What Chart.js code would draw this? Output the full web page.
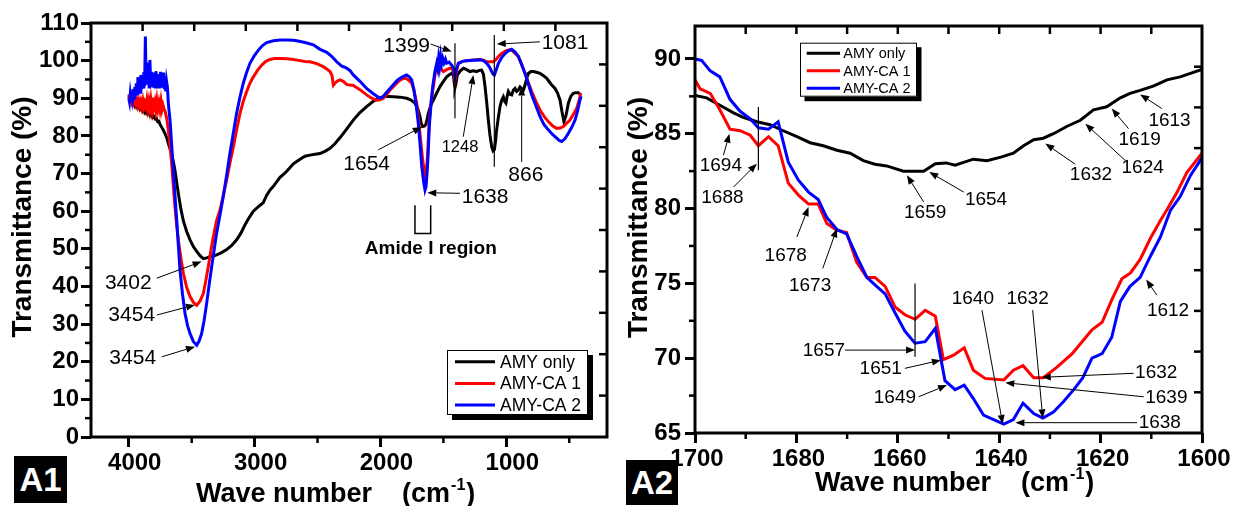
<!DOCTYPE html>
<html>
<head>
<meta charset="utf-8">
<script src="https://cdn.jsdelivr.net/npm/chart.js@4.4.1/dist/chart.umd.min.js"></script>
<style>
  html, body { margin: 0; padding: 0; background: #fff; }
  #wrap { position: relative; width: 1237px; height: 506px; overflow: hidden; }
  canvas { position: absolute; top: 0; }
  #c1 { left: 0; }
  #c2 { left: 617px; }
  .tag { position: absolute; background: #000; color: #fff; font: bold 33px "Liberation Sans", Arial, sans-serif;
         display: flex; align-items: center; justify-content: center; }
</style>
</head>
<body>
<div id="wrap">
  <canvas id="c1" width="617" height="506"></canvas>
  <canvas id="c2" width="620" height="506"></canvas>
  <div class="tag" style="left:14px;top:456px;width:53px;height:47px">A1</div>
  <div class="tag" style="left:626px;top:460px;width:52px;height:45px">A2</div>
</div>
<script>
const FONT = '"Liberation Sans", Arial, Helvetica, sans-serif';

// === SERIES ===
const seriesNames = ['AMY only', 'AMY-CA 1', 'AMY-CA 2'];
const seriesColors = ['#000000', '#ff0000', '#0000ff'];
const yTitle = 'Transmittance (%)';
const xTitle = 'Wave number    (cm';
const xTitleSup = '-1';

// === PANEL A1 : full spectrum ===
const a1XRange = [200, 4300];
const a1YRange = [0, 110];
const a1XTicks = [4000, 3000, 2000, 1000];
const a1XMinor = [3500, 2500, 1500, 500];
const a1YTicks = [0, 10, 20, 30, 40, 50, 60, 70, 80, 90, 100, 110];
const a1YMinor = [5, 15, 25, 35, 45, 55, 65, 75, 85, 95, 105];

const a1WaveAmy = [
  4000,3990,3980,3970,3960,3950,3940,3930,3920,3910,
  3900,3890,3880,3870,3860,3850,3840,3830,3820,3810,
  3800,3790,3780,3770,3760,3752,3740,3725,3712,3699,
  3686,3672,3659,3646,3633,3620,3606,3586,3566,3540,
  3513,3487,3460,3434,3407,3381,3354,3328,3302,3262,
  3222,3182,3143,3110,3076,3043,3010,2970,2944,2931,
  2905,2878,2851,2825,2798,2771,2745,2718,2692,2666,
  2639,2600,2560,2520,2481,2441,2401,2362,2322,2269,
  2216,2163,2110,2057,2004,1951,1898,1845,1792,1760,
  1726,1705,1686,1675,1665,1652,1640,1628,1620,1600,
  1580,1553,1527,1500,1474,1450,1434,1420,1412,1408,
  1402,1389,1365,1341,1315,1289,1262,1236,1216,1196,
  1182,1169,1156,1143,1130,1116,1105,1095,1086,1077,
  1063,1050,1037,1024,1013,1003,993,984,970,957,
  944,931,918,904,891,878,864,851,838,825,
  805,785,760,732,705,679,646,613,593,573,
  558,542,525,507,488,468,448,428,405];
const a1TransAmy = [
  90.5,89.5,89.8,88.6,89.2,88.0,88.6,87.5,88.0,87.0,
  87.4,86.6,87.0,86.2,86.8,85.8,86.2,85.4,85.8,84.9,
  85.2,84.5,84.6,83.8,83.9,83.1,82.4,81.5,80.6,79.6,
  78.0,76.6,75.2,73.2,70.9,67.8,64.7,60.6,57.4,54.6,
  52.4,50.6,49.3,48.2,47.4,47.6,47.9,48.1,48.4,49.0,
  49.8,50.9,52.4,54.1,56.4,58.3,60.0,61.2,61.9,62.3,
  64.2,65.6,66.6,67.8,69.0,69.8,70.6,71.6,72.6,73.2,
  73.8,74.6,74.9,75.1,75.3,75.9,76.7,77.9,79.5,81.8,
  84.2,86.2,87.8,89.2,90.2,90.5,90.4,90.3,90.0,89.6,
  88.7,87.4,85.1,83.2,82.5,82.6,83.0,84.6,86.0,88.1,
  89.5,91.4,93.1,94.5,95.7,96.3,96.6,96.0,93.5,92.8,
  93.6,96.2,97.3,98.0,97.6,97.1,97.3,97.1,97.4,97.5,
  96.4,93.1,89.0,84.2,80.2,77.1,76.0,76.3,78.5,81.6,
  85.0,87.8,89.5,90.4,89.2,88.7,90.6,91.8,91.0,90.9,
  92.2,92.6,91.8,92.2,93.0,92.6,92.2,93.5,95.3,96.6,
  97.1,97.1,96.9,96.6,96.0,95.3,93.8,92.6,91.4,89.5,
  86.5,83.8,85.5,88.7,90.5,91.3,91.5,91.5,90.8];

const a1WaveCa1 = [
  4000,3992,3984,3976,3968,3960,3952,3944,3936,3928,
  3920,3912,3904,3896,3888,3880,3872,3864,3856,3848,
  3840,3832,3824,3816,3808,3800,3792,3784,3776,3768,
  3760,3752,3744,3736,3728,3720,3712,3699,3686,3672,
  3659,3646,3633,3620,3606,3586,3566,3540,3513,3487,
  3460,3434,3407,3388,3368,3348,3328,3302,3275,3249,
  3222,3196,3169,3143,3116,3090,3063,3037,3010,2977,
  2944,2911,2878,2838,2798,2745,2692,2639,2600,2560,
  2507,2454,2428,2401,2385,2374,2362,2348,2335,2322,
  2295,2269,2243,2216,2163,2110,2070,2030,2004,1977,
  1951,1924,1898,1871,1845,1818,1792,1770,1752,1735,
  1712,1696,1681,1664,1652,1646,1638,1628,1620,1612,
  1596,1580,1566,1553,1540,1527,1514,1500,1474,1447,
  1430,1418,1408,1398,1381,1348,1315,1262,1209,1182,
  1156,1130,1103,1085,1063,1037,1010,997,970,957,
  944,930,917,904,878,851,825,798,765,732,
  700,666,633,600,573,547,520,494,468,441,
  425,409];
const a1TransCa1 = [
  91.0,89.8,90.6,89.2,90.2,89.0,90.0,88.6,89.6,88.2,
  89.4,88.0,89.2,87.8,89.4,87.6,88.8,87.8,89.6,87.4,
  89.2,87.2,89.6,87.4,90.2,87.6,89.0,87.0,89.4,87.2,
  88.8,87.0,89.2,87.0,88.2,87.2,86.6,84.8,81.6,77.4,
  72.7,66.8,61.2,56.5,52.3,47.6,43.5,39.8,37.3,35.8,
  35.0,36.1,38.2,41.5,45.3,49.4,53.2,57.5,60.3,64.2,
  68.3,72.8,77.1,81.6,86.0,89.2,91.8,94.0,95.7,97.4,
  98.8,99.8,100.3,100.6,100.6,100.5,100.3,100.0,99.8,99.7,
  99.2,98.4,97.8,97.1,96.0,93.5,94.0,94.4,94.7,94.9,
  94.5,93.7,93.5,93.4,92.3,90.9,90.0,89.5,89.6,90.0,
  91.0,92.2,93.1,94.0,94.8,95.3,95.2,94.6,94.0,92.3,
  88.7,84.0,78.9,73.5,70.5,69.2,70.2,73.6,79.0,84.2,
  89.6,93.1,96.4,98.4,97.2,98.6,97.6,97.1,97.6,98.0,
  97.8,96.8,94.9,96.8,99.3,99.8,100.0,100.2,100.3,100.1,
  99.7,99.7,99.7,100.2,101.1,101.9,102.5,102.7,102.9,102.8,
  102.4,101.9,101.5,101.1,99.0,96.6,94.2,91.8,89.2,86.9,
  85.2,83.8,82.7,82.0,82.1,82.5,83.4,84.2,85.7,87.3,
  89.0,91.3];

const a1WaveCa2 = [
  4000,3994,3988,3982,3976,3970,3964,3958,3952,3946,
  3940,3934,3928,3922,3916,3910,3904,3898,3892,3886,
  3880,3874,3868,3862,3856,3850,3844,3838,3832,3826,
  3820,3814,3808,3802,3796,3790,3784,3778,3772,3766,
  3760,3754,3748,3742,3736,3730,3724,3718,3712,3706,
  3700,3693,3686,3679,3672,3659,3646,3633,3619,3606,
  3593,3573,3553,3533,3513,3487,3460,3441,3421,3401,
  3381,3361,3341,3322,3302,3275,3249,3222,3196,3169,
  3143,3116,3090,3063,3037,3003,2970,2937,2904,2851,
  2798,2745,2692,2666,2600,2533,2480,2427,2401,2375,
  2348,2310,2269,2243,2216,2163,2110,2057,2004,1980,
  1951,1924,1898,1871,1845,1818,1792,1770,1752,1735,
  1718,1700,1686,1672,1659,1646,1638,1628,1620,1612,
  1598,1585,1568,1553,1545,1538,1530,1522,1514,1505,
  1495,1484,1474,1455,1434,1420,1408,1398,1381,1348,
  1315,1262,1209,1182,1156,1136,1116,1105,1095,1080,
  1063,1037,1010,984,957,930,904,878,851,825,
  798,765,732,700,666,633,600,580,560,533,
  507,480,454,434,415,405];
const a1TransCa2 = [
  90.0,89.0,91.2,89.6,91.8,90.2,92.4,90.0,93.0,90.6,
  94.0,91.2,95.6,92.2,94.8,91.6,96.2,92.4,95.0,93.0,
  97.0,93.2,106.4,94.0,99.5,93.6,97.8,93.0,100.2,94.0,
  97.0,93.4,96.8,92.8,95.4,93.0,97.2,92.6,96.4,93.4,
  95.8,92.6,97.0,93.2,96.2,92.8,96.8,92.4,95.8,91.8,
  94.6,93.0,89.0,86.4,84.2,77.6,70.9,64.3,57.7,51.0,
  44.4,38.0,32.9,29.6,27.5,25.4,24.4,25.5,27.5,31.0,
  35.5,40.5,45.3,49.6,54.1,59.0,63.9,69.6,75.4,80.8,
  86.0,90.4,94.0,96.9,99.3,101.3,102.8,104.0,104.8,105.3,
  105.5,105.5,105.4,105.3,104.8,104.2,103.0,102.2,101.5,100.7,
  99.7,98.6,98.0,97.4,96.2,94.5,92.6,91.2,90.0,90.4,
  91.6,92.6,93.6,94.6,95.3,95.8,96.2,95.7,94.9,92.4,
  88.7,83.5,78.0,72.0,68.3,65.6,66.5,70.9,76.0,82.5,
  88.6,93.1,97.0,99.3,98.0,100.6,98.6,101.2,99.2,100.6,
  99.4,100.4,99.3,99.6,98.8,98.0,95.7,97.5,99.3,99.8,
  100.0,100.1,100.2,100.0,99.3,98.4,97.1,96.4,96.2,97.6,
  99.3,100.8,101.9,102.6,103.0,102.3,101.1,98.9,96.6,93.8,
  90.9,88.0,85.1,83.0,81.6,80.4,79.4,78.8,78.5,79.3,
  80.7,82.3,84.2,86.6,89.5,90.5];

// === PANEL A2 : amide I region ===
const a2XRange = [1600, 1700];
const a2YRange = [65, 92.2];
const a2XTicks = [1700, 1680, 1660, 1640, 1620, 1600];
const a2XMinor = [1690, 1670, 1650, 1630, 1610];
const a2YTicks = [65, 70, 75, 80, 85, 90];
const a2YMinor = [67.5, 72.5, 77.5, 82.5, 87.5];

const a2WaveAmy = [
  1700.0,1697.7,1695.1,1692.4,1690.5,1687.8,1685.2,1682.6,1679.9,1677.3,
  1674.7,1672.0,1669.4,1666.8,1664.5,1662.2,1658.9,1654.9,1652.6,1650.5,
  1648.7,1645.1,1642.4,1639.5,1637.2,1635.2,1633.2,1631.3,1629.3,1626.6,
  1624.0,1621.4,1618.8,1616.1,1614.2,1612.2,1609.5,1606.9,1604.3,1600.0];
const a2TransAmy = [
  87.56,87.4,86.9,86.4,86.1,85.8,85.6,85.2,84.8,84.4,
  84.2,83.9,83.7,83.2,82.96,82.85,82.5,82.5,83.0,83.05,
  82.9,83.3,83.2,83.45,83.7,84.2,84.6,84.7,85.0,85.5,
  85.9,86.6,86.8,87.4,87.7,87.9,88.2,88.6,88.8,89.3];

const a2WaveCa1 = [
  1700.0,1699.0,1697.0,1695.1,1693.1,1691.1,1689.1,1687.5,1685.5,1683.6,
  1681.6,1679.6,1677.6,1675.7,1674.0,1672.0,1670.1,1668.1,1666.1,1664.5,
  1662.5,1660.5,1658.6,1656.6,1654.6,1652.6,1651.0,1649.0,1646.9,1645.1,
  1642.8,1639.1,1637.2,1635.3,1633.2,1631.3,1628.6,1625.6,1623.4,1621.7,
  1619.7,1617.8,1615.8,1614.1,1612.2,1610.2,1608.2,1606.6,1604.9,1603.0,
  1600.0];
const a2TransCa1 = [
  88.6,88.0,87.7,86.6,85.3,85.2,84.9,84.2,84.8,84.2,
  81.7,80.9,80.3,80.3,79.0,78.55,78.4,76.4,75.4,75.4,
  74.8,73.4,72.9,72.6,73.2,72.8,69.9,70.2,70.7,69.2,
  68.65,68.54,69.2,69.5,68.7,68.7,69.4,70.3,71.2,71.9,
  72.4,73.9,75.3,75.7,76.6,78.0,79.2,80.1,81.1,82.4,
  83.7];

const a2WaveCa2 = [
  1700.0,1698.7,1697.0,1695.1,1693.1,1691.1,1689.1,1687.5,1685.5,1683.6,
  1681.6,1679.6,1677.6,1675.7,1674.0,1672.0,1670.1,1668.1,1666.1,1664.5,
  1662.5,1660.5,1658.6,1656.6,1654.6,1652.6,1650.7,1648.7,1646.9,1645.1,
  1643.1,1641.1,1639.1,1637.2,1635.3,1633.2,1631.4,1629.3,1627.3,1625.3,
  1623.5,1621.7,1619.7,1617.8,1616.1,1614.2,1612.2,1610.2,1608.2,1606.2,
  1604.3,1602.3,1600.0];
const a2TransCa2 = [
  90.0,89.9,89.2,88.8,87.3,86.5,86.0,85.4,85.3,85.8,
  83.1,81.9,81.1,80.6,79.4,78.6,78.3,76.8,75.4,74.9,
  74.3,73.0,71.8,71.0,71.1,72.0,68.5,67.9,68.2,67.3,
  66.2,65.9,65.6,65.9,67.0,66.3,66.0,66.4,67.1,67.9,
  68.7,70.0,70.3,71.4,73.8,74.8,75.4,76.8,78.1,79.9,
  80.8,82.2,83.4];

// === ANOTAÇÕES (posições em coordenadas dos dados) ===
const a1Notes = [
  { t: '3402', x: 3818, y: 40.8, al: 'right', fs: 21, a: [3778, 42.2, 3421, 46.6] },
  { t: '3454', x: 3791, y: 32.4, al: 'right', fs: 21, a: [3778, 32.4, 3474, 35.1] },
  { t: '3454', x: 3783, y: 20.9, al: 'right', fs: 21, a: [3738, 21.3, 3474, 24.0] },
  { t: '1654', x: 1924, y: 72.4, al: 'right', fs: 21, a: [2017, 76.3, 1672, 82.4] },
  { t: '1638', x: 1354, y: 63.8, al: 'left', fs: 21, a: [1368, 64.75, 1628, 64.9] },
  { t: '1399', x: 1606, y: 103.9, al: 'right', fs: 21, a: [1601, 104.4, 1434, 102.4] },
  { t: '1081', x: 719, y: 104.6, al: 'left', fs: 21, a: [733, 105.0, 1076, 104.4] },
  { t: '1248', x: 1368, y: 76.9, al: 'center', fs: 16.5, a: [1342, 79.8, 1262, 96.2] },
  { t: '866', x: 845, y: 69.6, al: 'center', fs: 21, a: [878, 73.1, 878, 93.1] }
];
const a1Marks = [[1408, 104.6, 84.7], [1095.5, 106.8, 71.8]];
const a1Bracket = { x1: 1726, x2: 1601, top: 61.6, bot: 54.1, t: 'Amide I region', tx: 1600, ty: 50.0 };

const a2Notes = [
  { t: '1694', x: 1694.9, y: 82.84, al: 'center', a: [1694.4, 83.56, 1693.2, 85.0] },
  { t: '1688', x: 1694.6, y: 80.72, al: 'center', a: [1692.4, 81.44, 1687.8, 83.0] },
  { t: '1678', x: 1682.1, y: 76.83, al: 'center', a: [1679.9, 78.1, 1677.6, 80.1] },
  { t: '1673', x: 1677.3, y: 74.83, al: 'center', a: [1674.8, 76.0, 1672.0, 78.67] },
  { t: '1659', x: 1654.6, y: 79.72, al: 'center', a: [1654.9, 80.44, 1658.2, 82.22] },
  { t: '1654', x: 1642.6, y: 80.62, al: 'center', a: [1647.0, 81.1, 1653.8, 82.44] },
  { t: '1632', x: 1621.9, y: 82.24, al: 'center', a: [1625.0, 82.96, 1630.9, 84.34] },
  { t: '1624', x: 1611.7, y: 82.72, al: 'center', a: [1615.1, 83.2, 1623.0, 85.67] },
  { t: '1619', x: 1612.3, y: 84.63, al: 'center', a: [1614.5, 85.34, 1617.8, 86.68] },
  { t: '1613', x: 1606.4, y: 85.84, al: 'center', a: [1607.9, 86.68, 1612.2, 87.63] },
  { t: '1612', x: 1606.7, y: 73.16, al: 'center', a: [1608.9, 74.21, 1611.0, 75.26] },
  { t: '1640', x: 1645.2, y: 73.95, al: 'center', a: [1643.4, 73.21, 1639.3, 65.6] },
  { t: '1632', x: 1634.4, y: 73.95, al: 'center', a: [1633.4, 73.21, 1631.4, 65.98] },
  { t: '1632', x: 1613.2, y: 69.0, al: 'left', a: [1613.5, 68.99, 1631.6, 68.72] },
  { t: '1639', x: 1611.2, y: 67.34, al: 'left', a: [1611.5, 67.42, 1638.8, 68.36] },
  { t: '1638', x: 1612.5, y: 65.67, al: 'left', a: [1612.8, 65.69, 1636.8, 65.69] },
  { t: '1657', x: 1670.4, y: 70.49, al: 'right', a: [1670.4, 70.54, 1656.6, 70.54] },
  { t: '1651', x: 1659.2, y: 69.27, al: 'right', a: [1658.6, 69.32, 1651.5, 69.87] },
  { t: '1649', x: 1656.4, y: 67.37, al: 'right', a: [1655.9, 67.42, 1650.3, 68.2] }
];
const a2Marks = [[1687.5, 86.78, 82.56], [1656.6, 74.99, 70.09]];

// === FUNÇÕES DE DESENHO ===
function seg(ctx, x1, y1, x2, y2) {
  ctx.beginPath(); ctx.moveTo(x1, y1); ctx.lineTo(x2, y2); ctx.stroke();
}

function arrow(ctx, x1, y1, x2, y2) {
  const ang = Math.atan2(y2 - y1, x2 - x1), L = 9, W = 3.5;
  const bx = x2 - L * Math.cos(ang), by = y2 - L * Math.sin(ang);
  seg(ctx, x1, y1, bx, by);
  ctx.beginPath();
  ctx.moveTo(x2, y2);
  ctx.lineTo(bx + W * Math.sin(ang), by - W * Math.cos(ang));
  ctx.lineTo(bx - W * Math.sin(ang), by + W * Math.cos(ang));
  ctx.closePath(); ctx.fill();
}

function makeDecor(o) {
  return {
    id: 'decor',
    afterDraw(chart) {
      const ctx = chart.ctx, a = chart.chartArea;
      const px = v => chart.scales.x.getPixelForValue(v);
      const py = v => chart.scales.y.getPixelForValue(v);
      ctx.save();
      ctx.strokeStyle = '#000'; ctx.fillStyle = '#000';

      // ticks menores (para fora)
      ctx.lineWidth = 2.5;
      o.xMinor.forEach(v => seg(ctx, px(v), a.bottom, px(v), a.bottom + 6));
      o.yMinor.forEach(v => seg(ctx, a.left - 6, py(v), a.left, py(v)));

      // ticks espelhados em cima / direita (para dentro)
      for (let i = 1; i < 10; i++) {
        const tx = chart.scales.xTop.getPixelForValue(i);
        seg(ctx, tx, a.top, tx, a.top + 8);
        const ty = chart.scales.yRight.getPixelForValue(i);
        seg(ctx, a.right - 8, ty, a.right, ty);
      }

      // moldura
      ctx.lineWidth = 3;
      ctx.strokeRect(a.left, a.top, a.right - a.left, a.bottom - a.top);

      // linhas verticais de marcação
      ctx.lineWidth = 1.2;
      o.marks.forEach(m => seg(ctx, px(m[0]), py(m[1]), px(m[0]), py(m[2])));

      // rótulos + setas
      ctx.lineWidth = 1;
      ctx.textBaseline = 'middle';
      o.notes.forEach(n => {
        ctx.font = (n.fs || o.noteSize) + 'px ' + FONT;
        ctx.textAlign = n.al;
        ctx.fillText(n.t, px(n.x), py(n.y));
        arrow(ctx, px(n.a[0]), py(n.a[1]), px(n.a[2]), py(n.a[3]));
      });

      // colchete "Amide I region"
      if (o.bracket) {
        const b = o.bracket;
        ctx.lineWidth = 1.5;
        ctx.beginPath();
        ctx.moveTo(px(b.x1), py(b.top)); ctx.lineTo(px(b.x1), py(b.bot));
        ctx.lineTo(px(b.x2), py(b.bot)); ctx.lineTo(px(b.x2), py(b.top));
        ctx.stroke();
        ctx.font = 'bold 19px ' + FONT; ctx.textAlign = 'center';
        ctx.fillText(b.t, px(b.tx), py(b.ty));
      }

      // legenda com sombra
      const L = o.legend;
      const bx = a.left + L.dx, by = a.top + L.dy;
      ctx.fillStyle = '#000'; ctx.fillRect(bx + L.sh, by + L.sh, L.w, L.h);
      ctx.fillStyle = '#fff'; ctx.fillRect(bx, by, L.w, L.h);
      ctx.lineWidth = 1; ctx.strokeStyle = '#000';
      ctx.strokeRect(bx + 0.5, by + 0.5, L.w - 1, L.h - 1);
      chart.data.datasets.forEach((d, i) => {
        const yy = by + L.row0 + i * L.rowH;
        ctx.strokeStyle = d.borderColor; ctx.lineWidth = 3;
        seg(ctx, bx + L.l0, yy, bx + L.l1, yy);
        ctx.fillStyle = '#000'; ctx.font = L.fs + 'px ' + FONT;
        ctx.textAlign = 'left'; ctx.textBaseline = 'middle';
        ctx.fillText(d.label, bx + L.tx, yy + 1);
      });

      // título do eixo y
      ctx.save();
      ctx.translate(o.yTitleX, (a.top + a.bottom) / 2 + o.yTitleDy);
      ctx.rotate(-Math.PI / 2);
      ctx.font = 'bold 28px ' + FONT; ctx.fillStyle = '#000';
      ctx.textAlign = 'center'; ctx.textBaseline = 'middle';
      ctx.fillText(yTitle, 0, 0);
      ctx.restore();

      // título do eixo x com expoente
      ctx.fillStyle = '#000'; ctx.textAlign = 'left'; ctx.textBaseline = 'alphabetic';
      let x = o.xTitleX;
      ctx.font = 'bold 27px ' + FONT;
      ctx.fillText(xTitle, x, o.xTitleY);
      x += ctx.measureText(xTitle).width + 1;
      ctx.font = 'bold 16px ' + FONT;
      ctx.fillText(xTitleSup, x, o.xTitleY - 12);
      x += ctx.measureText(xTitleSup).width + 1;
      ctx.font = 'bold 27px ' + FONT;
      ctx.fillText(')', x, o.xTitleY);

      ctx.restore();
    }
  };
}

function pontos(xs, ys) { return xs.map((x, i) => ({ x: x, y: ys[i] })); }

function makePanel(id, o) {
  const tickFont = { family: FONT, size: 24, weight: 'bold' };
  return new Chart(document.getElementById(id), {
    type: 'line',
    data: {
      datasets: o.series.map((s, i) => ({
        label: seriesNames[i],
        data: pontos(s[0], s[1]),
        borderColor: seriesColors[i],
        backgroundColor: seriesColors[i],
        borderWidth: 3,
        pointRadius: 0,
        tension: 0,
        fill: false,
        order: 3 - i
      }))
    },
    options: {
      responsive: false,
      animation: false,
      devicePixelRatio: 1,
      layout: { padding: o.pad },
      plugins: { legend: { display: false }, tooltip: { enabled: false } },
      scales: {
        x: {
          type: 'linear', reverse: true, min: o.xRange[0], max: o.xRange[1],
          afterBuildTicks: s => { s.ticks = o.xTicks.map(v => ({ value: v })); },
          afterFit: s => { s.height = o.xAxisH; },
          ticks: { autoSkip: false, maxRotation: 0, padding: 2, labelOffset: o.xLabelOffset,
                   color: '#000', font: tickFont, callback: v => String(v) },
          grid: { drawOnChartArea: false, drawTicks: true, tickLength: 10, tickWidth: 3, tickColor: '#000' },
          border: { display: false }
        },
        y: {
          type: 'linear', min: o.yRange[0], max: o.yRange[1],
          afterBuildTicks: s => { s.ticks = o.yTicks.map(v => ({ value: v })); },
          afterFit: s => { s.width = o.yAxisW; },
          ticks: { autoSkip: false, padding: o.yPad, color: '#000', font: tickFont, callback: v => String(v) },
          grid: { drawOnChartArea: false, drawTicks: true, tickLength: 10, tickWidth: 3, tickColor: '#000' },
          border: { display: false }
        },
        xTop: { type: 'linear', display: false, position: 'top', min: 0, max: 10 },
        yRight: { type: 'linear', display: false, position: 'right', min: 0, max: 10 }
      }
    },
    plugins: [makeDecor(o)]
  });
}

// === INICIA TUDO ===
makePanel('c1', {
  series: [[a1WaveAmy, a1TransAmy], [a1WaveCa1, a1TransCa1], [a1WaveCa2, a1TransCa2]],
  xRange: a1XRange, yRange: a1YRange, xTicks: a1XTicks, yTicks: a1YTicks,
  xMinor: a1XMinor, yMinor: a1YMinor, xLabelOffset: 6,
  pad: { left: 0, top: 23, right: 10, bottom: 0 }, yAxisW: 91, xAxisH: 69, yPad: 2,
  notes: a1Notes, marks: a1Marks, bracket: a1Bracket, noteSize: 21,
  legend: { dx: 356, dy: 327, w: 141, h: 65, sh: 5, row0: 11.7, rowH: 21.7, l0: 8, l1: 48, tx: 53, fs: 17.5 },
  yTitleX: 23, yTitleDy: -13, xTitleX: 196, xTitleY: 502
});

makePanel('c2', {
  series: [[a2WaveAmy, a2TransAmy], [a2WaveCa1, a2TransCa1], [a2WaveCa2, a2TransCa2]],
  xRange: a2XRange, yRange: a2YRange, xTicks: a2XTicks, yTicks: a2YTicks,
  xMinor: a2XMinor, yMinor: a2YMinor, xLabelOffset: 2,
  pad: { left: 0, top: 26, right: 35, bottom: 0 }, yAxisW: 78, xAxisH: 73, yPad: 4,
  notes: a2Notes, marks: a2Marks, bracket: null, noteSize: 19,
  legend: { dx: 105, dy: 16.7, w: 117, h: 54, sh: 4.5, row0: 10.6, rowH: 17.5, l0: 6.7, l1: 40, tx: 43.3, fs: 14.5 },
  yTitleX: 22, yTitleDy: -12, xTitleX: 198, xTitleY: 491
});
</script>
</body>
</html>
